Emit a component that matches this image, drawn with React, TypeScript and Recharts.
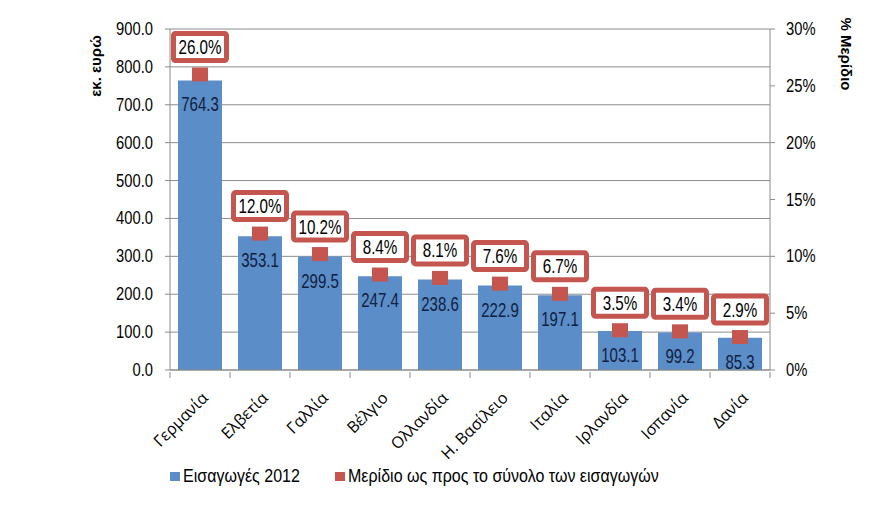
import React from 'react';
import { ComposedChart, Bar, Line, XAxis, YAxis, CartesianGrid, LabelList } from 'recharts';

const countries = ['Γερμανία', 'Ελβετία', 'Γαλλία', 'Βέλγιο', 'Ολλανδία', 'Η. Βασίλειο', 'Ιταλία', 'Ιρλανδία', 'Ισπανία', 'Δανία'];
const imports2012 = [764.3, 353.1, 299.5, 247.4, 238.6, 222.9, 197.1, 103.1, 99.2, 85.3];
const shares = [26.0, 12.0, 10.2, 8.4, 8.1, 7.6, 6.7, 3.5, 3.4, 2.9];
const leftTicks = [0, 100, 200, 300, 400, 500, 600, 700, 800, 900];
const rightTicks = [0, 5, 10, 15, 20, 25, 30];
const seriesNames = ['Εισαγωγές 2012', 'Μερίδιο ως προς το σύνολο των εισαγωγών'];

const data = countries.map((c, i) => ({ name: c, value: imports2012[i], share: shares[i] }));

const BLUE = '#5B8DC8';
const RED = '#C5554F';
const GRAY = '#8C8C8C';
const SANS = '"Liberation Sans", Arial, sans-serif';
const CAT_FONT = '"Open Sans", "Noto Sans", sans-serif';

const NarrowText = ({ x, y, anchor = 'start', size = 18, sx = 0.82, fill = '#000', children }: any) => (
  <text
    transform={`translate(${x} ${y}) scale(${sx} 1)`}
    x={0}
    y={0}
    textAnchor={anchor}
    fontFamily={SANS}
    fontSize={size}
    fill={fill}
  >
    {children}
  </text>
);

const LeftTick = (props: any) => {
  const { x, y, payload } = props;
  return (
    <NarrowText x={x} y={y + 6} anchor="end">
      {Number(payload.value).toFixed(1)}
    </NarrowText>
  );
};

const RightTick = (props: any) => {
  const { x, y, payload } = props;
  return (
    <NarrowText x={x} y={y + 6} anchor="start">
      {`${payload.value}%`}
    </NarrowText>
  );
};

const SquareDot = (props: any) => {
  const { cx, cy } = props;
  if (cx == null || cy == null) return null;
  return <rect x={cx - 8} y={cy - 7} width={16} height={14} fill={RED} />;
};

const ShareLabel = (props: any) => {
  const { x, y, value } = props;
  const w = 53;
  const h = 27;
  const top = y - 14 - h;
  return (
    <g>
      <rect x={x - w / 2} y={top} width={w} height={h} fill="#fff" stroke={RED} strokeWidth={5} rx={2} />
      <NarrowText x={x} y={top + h / 2 + 7} anchor="middle" size={20} sx={0.76}>
        {Number(value).toFixed(1) + '%'}
      </NarrowText>
    </g>
  );
};

const BarValueLabel = (props: any) => {
  const { x, y, width, value } = props;
  return (
    <NarrowText x={x + width / 2} y={y + 31} anchor="middle" size={20} sx={0.75} fill="#10203F">
      {Number(value).toFixed(1)}
    </NarrowText>
  );
};

const CatTick = (props: any) => {
  const { x, y, payload, index } = props;
  return (
    <g>
      <line x1={x - 30} y1={y} x2={x - 30} y2={y + 6} stroke={GRAY} />
      {index === countries.length - 1 && <line x1={x + 30} y1={y} x2={x + 30} y2={y + 6} stroke={GRAY} />}
      <text
        x={x + 9}
        y={y + 27}
        textAnchor="end"
        transform={`rotate(-45 ${x + 9} ${y + 27})`}
        fontFamily={CAT_FONT}
        fontSize={16}
        fill="#000"
      >
        {payload.value}
      </text>
    </g>
  );
};

const legendText: React.CSSProperties = {
  position: 'absolute',
  top: 465,
  fontFamily: SANS,
  fontSize: 18,
  lineHeight: '22px',
  color: '#000',
  whiteSpace: 'nowrap',
  transform: 'scaleX(0.89)',
  transformOrigin: 'left center',
};

export default function App() {
  return (
    <div style={{ position: 'absolute', left: 0, top: 0, width: 896, height: 506, background: '#fff' }}>
      <ComposedChart width={896} height={506} data={data} margin={{ top: 29, right: 66, bottom: 0, left: 90 }}>
        <CartesianGrid yAxisId="left" vertical={false} stroke={GRAY} />
        <XAxis
          dataKey="name"
          height={136}
          stroke={GRAY}
          tickLine={false}
          tickSize={0}
          interval={0}
          tick={<CatTick />}
        />
        <YAxis
          yAxisId="left"
          domain={[0, 900]}
          ticks={leftTicks}
          width={80}
          stroke={GRAY}
          tickSize={5}
          tickMargin={12}
          tick={<LeftTick />}
          label={() => (
            <text
              x={101}
              y={66}
              transform="rotate(-90 101 66)"
              textAnchor="middle"
              fontFamily={SANS}
              fontWeight="bold"
              fontSize={15}
              fill="#000"
            >
              εκ. ευρώ
            </text>
          )}
        />
        <YAxis
          yAxisId="right"
          orientation="right"
          domain={[0, 30]}
          ticks={rightTicks}
          width={60}
          stroke={GRAY}
          tickSize={5}
          tickMargin={11}
          tick={<RightTick />}
          label={() => (
            <text
              x={841}
              y={54}
              transform="rotate(90 841 54)"
              textAnchor="middle"
              fontFamily={SANS}
              fontWeight="bold"
              fontSize={15}
              fill="#000"
            >
              % Μερίδιο
            </text>
          )}
        />
        <Bar yAxisId="left" dataKey="value" fill={BLUE} barSize={44} isAnimationActive={false}>
          <LabelList dataKey="value" content={<BarValueLabel />} />
        </Bar>
        <Line
          yAxisId="right"
          dataKey="share"
          stroke="none"
          dot={<SquareDot />}
          activeDot={false}
          isAnimationActive={false}
        >
          <LabelList dataKey="share" content={<ShareLabel />} />
        </Line>
      </ComposedChart>
      <span style={{ position: 'absolute', left: 170, top: 472, width: 10, height: 9, background: BLUE }} />
      <span style={{ ...legendText, left: 183 }}>{seriesNames[0]}</span>
      <span style={{ position: 'absolute', left: 335, top: 472, width: 10, height: 9, background: RED }} />
      <span style={{ ...legendText, left: 348 }}>{seriesNames[1]}</span>
    </div>
  );
}
